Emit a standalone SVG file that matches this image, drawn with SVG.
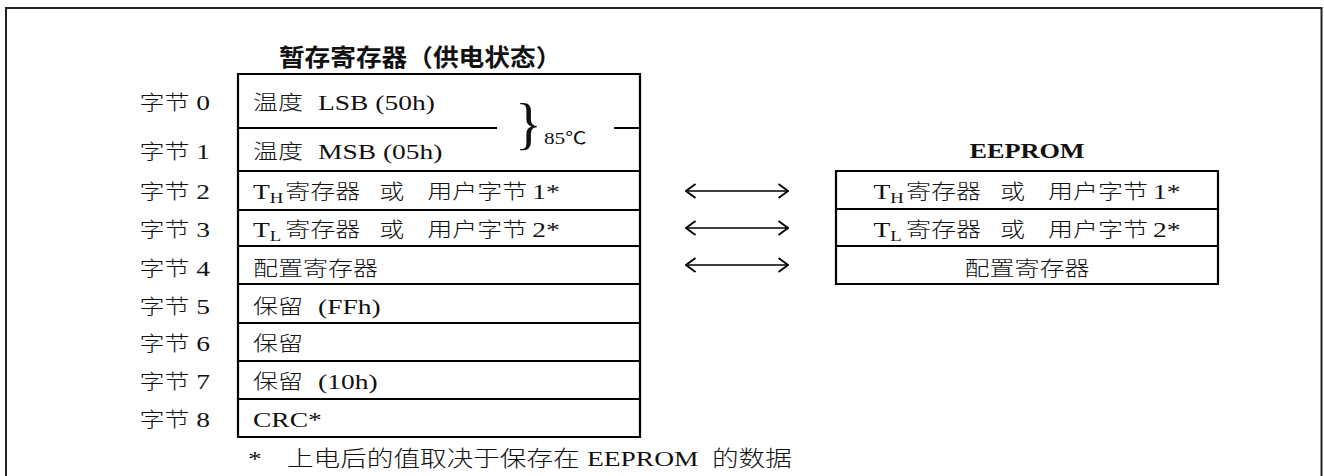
<svg xmlns="http://www.w3.org/2000/svg" width="1324" height="476" viewBox="0 0 1324 476">
<defs>
<style>
text{font-family:"Liberation Serif","Noto Sans CJK SC",serif;fill:#111;font-size:22px}
.c{font-family:"Noto Sans CJK SC",sans-serif;font-size:20px;font-weight:300}
.fn{font-size:21.3px}
.lbl{text-anchor:end}
.mid{text-anchor:middle}
.sub{font-size:15px}
.ln{stroke:#000;stroke-width:2.2;fill:none}
.arr{stroke:#000;stroke-width:1.6;fill:none}
</style>
<marker id="ah" viewBox="0 0 12 16" refX="11" refY="8" markerWidth="12" markerHeight="16" markerUnits="userSpaceOnUse" orient="auto-start-reverse">
<path d="M1.5,1 L11,8 L1.5,15" fill="none" stroke="#000" stroke-width="1.8"/>
</marker>
</defs>
<rect width="1324" height="476" fill="#fff"/>
<path d="M6,476 V8 H1321.5 V476" fill="none" stroke="#222" stroke-width="2"/>

<g id="scratchpad">
<text transform="scale(1.07,1)" x="260.7" y="66" style="font-family:'Noto Sans CJK SC',sans-serif;font-size:24px;font-weight:bold">暂存寄存器（供电状态）</text>
<path class="ln" d="M238,74 H640 V437 H238 Z"/>
<path class="ln" d="M238,128 H497 M614,128 H640 M238,171 H640 M238,210 H640 M238,246 H640 M238,284 H640 M238,323 H640 M238,361 H640 M238,399 H640"/>
<text x="515" y="143" style="font-size:56px">}</text>
<g transform="scale(1.25,1)">
<text class="lbl" x="168" y="110.5"><tspan class="c">字节</tspan> 0</text>
<text class="lbl" x="168" y="159"><tspan class="c">字节</tspan> 1</text>
<text class="lbl" x="168" y="199"><tspan class="c">字节</tspan> 2</text>
<text class="lbl" x="168" y="237"><tspan class="c">字节</tspan> 3</text>
<text class="lbl" x="168" y="276"><tspan class="c">字节</tspan> 4</text>
<text class="lbl" x="168" y="314"><tspan class="c">字节</tspan> 5</text>
<text class="lbl" x="168" y="351"><tspan class="c">字节</tspan> 6</text>
<text class="lbl" x="168" y="389"><tspan class="c">字节</tspan> 7</text>
<text class="lbl" x="168" y="427"><tspan class="c">字节</tspan> 8</text>
<text y="110.5"><tspan class="c" x="202.4">温度</tspan><tspan x="254.4">LSB (50h)</tspan></text>
<text y="159"><tspan class="c" x="202.4">温度</tspan><tspan x="254.4">MSB (05h)</tspan></text>
<text y="199"><tspan x="202.4">T</tspan><tspan class="sub" x="215.8" dy="4">H</tspan><tspan class="c" x="228.3" dy="-4">寄存器</tspan><tspan class="c" x="303.5">或</tspan><tspan class="c" x="341.9">用户字节</tspan><tspan x="425.9">1*</tspan></text>
<text y="237"><tspan x="202.4">T</tspan><tspan class="sub" x="215.8" dy="4">L</tspan><tspan class="c" x="228.3" dy="-4">寄存器</tspan><tspan class="c" x="303.5">或</tspan><tspan class="c" x="341.9">用户字节</tspan><tspan x="425.9">2*</tspan></text>
<text y="276"><tspan class="c" x="202.4">配置寄存器</tspan></text>
<text y="314"><tspan class="c" x="202.4">保留</tspan><tspan x="254.4">(FFh)</tspan></text>
<text y="351"><tspan class="c" x="202.4">保留</tspan></text>
<text y="389"><tspan class="c" x="202.4">保留</tspan><tspan x="254.4">(10h)</tspan></text>
<text x="202.4" y="427">CRC*</text>
<text x="435.2" y="144" style="font-size:17px">85℃</text>
</g>
</g>

<g id="eeprom">
<path class="ln" d="M836,171 H1218 V284 H836 Z M836,209 H1218 M836,246 H1218"/>
<g transform="scale(1.25,1)">
<text class="mid" x="821.6" y="158" style="font-weight:bold;font-size:21px">EEPROM</text>
<text y="199"><tspan x="698.9">T</tspan><tspan class="sub" x="712.3" dy="4">H</tspan><tspan class="c" x="724.8" dy="-4">寄存器</tspan><tspan class="c" x="800">或</tspan><tspan class="c" x="838.4">用户字节</tspan><tspan x="922.4">1*</tspan></text>
<text y="237"><tspan x="698.9">T</tspan><tspan class="sub" x="712.3" dy="4">L</tspan><tspan class="c" x="724.8" dy="-4">寄存器</tspan><tspan class="c" x="800">或</tspan><tspan class="c" x="838.4">用户字节</tspan><tspan x="922.4">2*</tspan></text>
<text class="mid c" x="821.6" y="276">配置寄存器</text>
</g>
</g>

<g id="connectors">
<line class="arr" x1="686" y1="191" x2="788" y2="191" marker-start="url(#ah)" marker-end="url(#ah)"/>
<line class="arr" x1="686" y1="228" x2="788" y2="228" marker-start="url(#ah)" marker-end="url(#ah)"/>
<line class="arr" x1="686" y1="265" x2="788" y2="265" marker-start="url(#ah)" marker-end="url(#ah)"/>
</g>

<g id="footnote" transform="scale(1.25,1)">
<text x="198.4" y="466">*</text>
<text y="466"><tspan class="c fn" x="229.6">上电后的值取决于保存在</tspan><tspan x="469.6">EEPROM</tspan><tspan class="c fn" x="569.6">的数据</tspan></text>
</g>
</svg>
